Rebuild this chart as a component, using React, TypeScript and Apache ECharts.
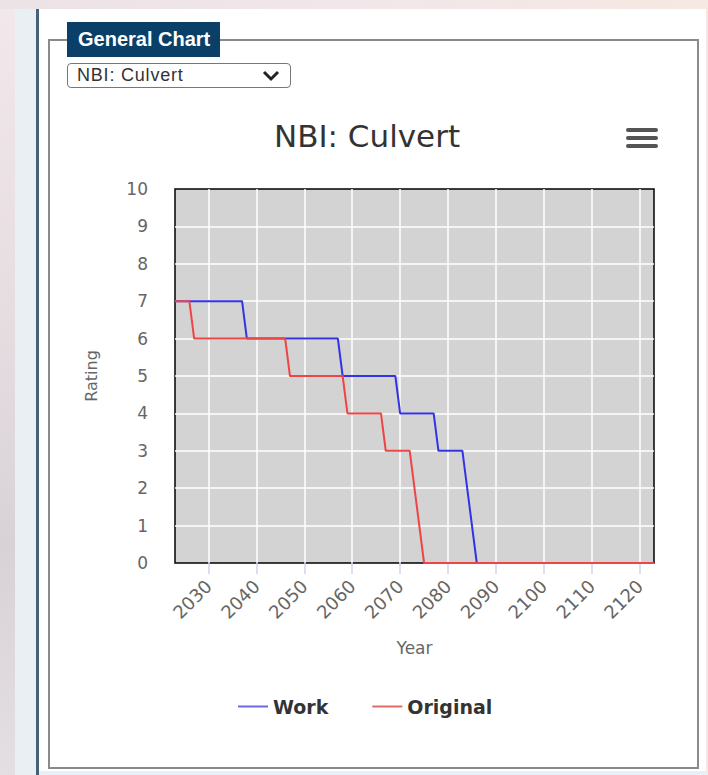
import React, { useEffect, useRef } from "react";
import * as echarts from "echarts";

const chartTitle = "NBI: Culvert";
const panelTitle = "General Chart";
const selectLabel = "NBI: Culvert";
const xAxisName = "Year";
const yAxisName = "Rating";
const seriesNames = ["Work", "Original"];

const workYears = [2023, 2037, 2038, 2057, 2058, 2069, 2070, 2077, 2078, 2083, 2086, 2123];
const workRatings = [7, 7, 6, 6, 5, 5, 4, 4, 3, 3, 0, 0];
const originalYears = [2023, 2026, 2027, 2046, 2047, 2058, 2059, 2066, 2067, 2072, 2075, 2123];
const originalRatings = [7, 7, 6, 6, 5, 5, 4, 4, 3, 3, 0, 0];

const yearTicks = [2030, 2040, 2050, 2060, 2070, 2080, 2090, 2100, 2110, 2120];
const yearMin = 2023;
const yearMax = 2123;
const ratingMin = 0;
const ratingMax = 10;
const ratingStep = 1;

const FONT = "'DejaVu Sans', Verdana, sans-serif";

function pairs(xs: number[], ys: number[]) {
  return xs.map((x, i) => [x, ys[i]]);
}

export default function App() {
  const ref = useRef<HTMLDivElement>(null);

  useEffect(() => {
    document.body.style.margin = "0";
    const chart = echarts.init(ref.current as HTMLDivElement, null, { renderer: "svg" });
    chart.setOption({
      animation: false,
      backgroundColor: "transparent",
      title: {
        text: chartTitle,
        left: 362,
        top: 115,
        textAlign: "center",
        textStyle: { fontFamily: FONT, fontSize: 31, fontWeight: "normal", color: "#333" },
      },
      graphic: [
        { type: "rect", left: 626, top: 128, shape: { width: 32, height: 4, r: 2 }, style: { fill: "#555" } },
        { type: "rect", left: 626, top: 136, shape: { width: 32, height: 4, r: 2 }, style: { fill: "#555" } },
        { type: "rect", left: 626, top: 144, shape: { width: 32, height: 4, r: 2 }, style: { fill: "#555" } },
      ],
      legend: {
        left: 233,
        top: 692,
        itemWidth: 30,
        itemHeight: 2,
        itemGap: 44,
        icon: "rect",
        textStyle: { fontFamily: FONT, fontSize: 19, fontWeight: "bold", color: "#333" },
        data: [
          { name: seriesNames[0], itemStyle: { color: "#6a6ae0" } },
          { name: seriesNames[1], itemStyle: { color: "#e06a6a" } },
        ],
      },
      grid: {
        left: 175,
        top: 189,
        right: 54,
        bottom: 212,
        show: true,
        backgroundColor: "#d3d3d3",
        borderColor: "#000",
        borderWidth: 1.5,
      },
      xAxis: {
        type: "value",
        min: yearMin,
        max: yearMax,
        name: xAxisName,
        nameLocation: "middle",
        nameGap: 76,
        nameTextStyle: { fontFamily: FONT, fontSize: 17, color: "#666" },
        axisLine: { show: false },
        axisTick: {
          show: true,
          length: 11,
          customValues: yearTicks,
          lineStyle: { color: "#ccd6eb", width: 1.5 },
        },
        axisLabel: {
          customValues: yearTicks,
          rotate: 45,
          margin: 20,
          fontFamily: FONT,
          fontSize: 18,
          color: "#666",
          formatter: (v: number) => String(v),
        },
        splitLine: { show: true, lineStyle: { color: "#fff", width: 1.5 } },
      },
      yAxis: {
        type: "value",
        min: ratingMin,
        max: ratingMax,
        interval: ratingStep,
        name: yAxisName,
        nameLocation: "middle",
        nameGap: 76,
        nameTextStyle: { fontFamily: FONT, fontSize: 16, color: "#666" },
        axisLine: { show: false },
        axisTick: { show: false },
        axisLabel: { margin: 27, fontFamily: FONT, fontSize: 17, color: "#666" },
        splitLine: { show: true, showMinLine: false, showMaxLine: false, lineStyle: { color: "#fff", width: 1.5 } },
      },
      series: [
        {
          name: seriesNames[0],
          type: "line",
          data: pairs(workYears, workRatings),
          symbol: "none",
          lineStyle: { color: "#3333e6", width: 2 },
          itemStyle: { color: "#3333e6" },
        },
        {
          name: seriesNames[1],
          type: "line",
          data: pairs(originalYears, originalRatings),
          symbol: "none",
          lineStyle: { color: "#ef4444", width: 2 },
          itemStyle: { color: "#ef4444" },
        },
      ],
    });
    return () => chart.dispose();
  }, []);

  return (
    <div
      style={{
        position: "fixed",
        left: 0,
        top: 0,
        width: 708,
        height: 775,
        overflow: "hidden",
        background: "linear-gradient(90deg, #ece3e7 0%, #f1e7ea 50%, #f6e8e2 100%)",
      }}
    >
      <div
        style={{
          position: "absolute",
          left: 0,
          top: 9,
          width: 15,
          height: 766,
          background: "linear-gradient(180deg, #f2e8eb 0%, #e6dde1 40%, #d8d2d6 70%, #e4dfe3 100%)",
        }}
      />
      <div style={{ position: "absolute", left: 15, top: 9, width: 22, height: 766, background: "#e9eff3" }} />
      <div style={{ position: "absolute", left: 36, top: 9, width: 3, height: 766, background: "#44637a" }} />
      <div style={{ position: "absolute", left: 39, top: 9, width: 667, height: 762, background: "#fff" }} />
      <div style={{ position: "absolute", left: 39, top: 771, width: 669, height: 4, background: "#e7eff7" }} />
      <div
        style={{
          position: "absolute",
          left: 48,
          top: 39,
          width: 651,
          height: 730,
          border: "2px solid #8a8a8a",
          boxSizing: "border-box",
        }}
      />
      <div
        style={{
          position: "absolute",
          left: 67,
          top: 22,
          width: 153,
          height: 35,
          background: "#0a4068",
          color: "#fff",
          fontFamily: "'Liberation Sans', Arial, sans-serif",
          fontWeight: "bold",
          fontSize: 20,
          lineHeight: "35px",
          paddingLeft: 11,
          boxSizing: "border-box",
          whiteSpace: "nowrap",
        }}
      >
        {panelTitle}
      </div>
      <div
        style={{
          position: "absolute",
          left: 67,
          top: 63,
          width: 224,
          height: 25,
          border: "1px solid #777",
          borderRadius: 4,
          background: "#fff",
          boxSizing: "border-box",
          fontFamily: "'Liberation Sans', Arial, sans-serif",
          fontSize: 18,
          letterSpacing: "0.8px",
          lineHeight: "23px",
          color: "#333",
          paddingLeft: 9,
          whiteSpace: "nowrap",
        }}
      >
        {selectLabel}
        <svg
          width="18"
          height="12"
          viewBox="0 0 18 12"
          style={{ position: "absolute", left: 194, top: 6 }}
        >
          <polyline points="2,2 9,9 16,2" fill="none" stroke="#222" strokeWidth="3" />
        </svg>
      </div>
      <div ref={ref} style={{ position: "absolute", left: 0, top: 0, width: 708, height: 775 }} />
    </div>
  );
}
